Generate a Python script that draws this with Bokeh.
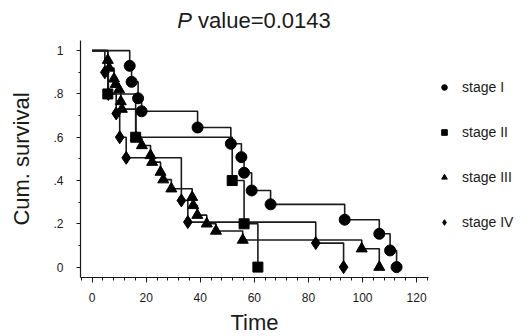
from bokeh.plotting import figure
from bokeh.layouts import column
from bokeh.models import (FixedTicker, CustomJSTickFormatter, Legend, LegendItem,
                          Range1d, Div)
from bokeh.embed import file_html
from bokeh.resources import INLINE

# ---- data ----
stage1_t = [13.9, 14.6, 17.0, 18.3, 39.0, 51.3, 55.2, 56.2, 59.0, 66.0, 93.4, 106.2, 110.2, 112.6]
stage1_s = [0.93, 0.856, 0.78, 0.72, 0.645, 0.57, 0.508, 0.436, 0.354, 0.29, 0.219, 0.154, 0.077, 0.0]

stage2_t = [5.8, 16.1, 51.8, 56.2, 61.3]
stage2_s = [0.8, 0.6, 0.4, 0.2, 0.0]

stage3_t = [5.8, 6.3, 8.1, 8.7, 10.0, 10.6, 11.0, 16.2, 18.4, 21.6, 22.2, 25.3, 26.3, 29.3,
            37.0, 37.4, 38.9, 42.4, 45.8, 55.7, 99.7, 106.2]
stage3_s = [0.956, 0.92, 0.87, 0.845, 0.82, 0.765, 0.73, 0.60, 0.562, 0.516, 0.485, 0.439,
            0.404, 0.362, 0.323, 0.285, 0.24, 0.2, 0.167, 0.125, 0.085, 0.0]

stage4_t = [4.7, 6.0, 8.9, 10.2, 12.6, 33.0, 35.4, 82.7, 93.0]
stage4_s = [0.9, 0.8, 0.71, 0.6, 0.505, 0.308, 0.208, 0.111, 0.0]

series_names = ["stage I", "stage II", "stage III", "stage IV"]
x_ticks = [0, 20, 40, 60, 80, 100, 120]
y_ticks = [0, 0.2, 0.4, 0.6, 0.8, 1]
title_italic = "P"
title_rest = "value=0.0143"

FONT = "Liberation Sans"
INK = "#1a1a1a"

p = figure(frame_width=348, frame_height=237,
           x_range=Range1d(-4.3, 124.4), y_range=Range1d(-0.048, 1.047),
           output_backend="svg", toolbar_location=None,
           min_border_left=80, min_border_top=8, min_border_right=10, min_border_bottom=51)
p.outline_line_color = None
p.xgrid.visible = False
p.ygrid.visible = False
p.background_fill_color = "white"
p.border_fill_color = "white"

# axes
p.xaxis.ticker = FixedTicker(ticks=x_ticks, minor_ticks=list(range(-4, 125, 4)))
p.yaxis.ticker = FixedTicker(ticks=y_ticks, minor_ticks=[0.1, 0.3, 0.5, 0.7, 0.9])
p.yaxis.formatter = CustomJSTickFormatter(code="""
    if (tick == 0) return '0';
    if (tick == 1) return '1';
    return tick.toFixed(1).replace(/^0/, '');
""")
for ax in (p.xaxis[0], p.yaxis[0]):
    ax.axis_line_color = INK
    ax.axis_line_width = 1.2
    ax.major_tick_line_color = INK
    ax.minor_tick_line_color = INK
    ax.major_tick_in = 0
    ax.minor_tick_in = 0
    ax.major_label_text_font = FONT
    ax.major_label_text_font_size = "12px"
    ax.major_label_text_color = INK
    ax.axis_label_text_font = FONT
    ax.axis_label_text_font_style = "normal"
    ax.axis_label_text_font_size = "22px"
    ax.axis_label_text_color = INK
p.xaxis.major_tick_out = 5
p.xaxis.minor_tick_out = 3
p.xaxis.major_label_standoff = 10
p.xaxis.axis_label = "Time"
p.xaxis.axis_label_standoff = 5
p.yaxis.major_tick_out = 4
p.yaxis.minor_tick_out = 2
p.yaxis.major_label_standoff = 13
p.yaxis.axis_label = "Cum. survival"
p.yaxis.axis_label_standoff = 16

series = [
    (stage1_t, stage1_s, "circle", 11),
    (stage2_t, stage2_s, "square", 10),
    (stage3_t, stage3_s, "triangle", 11),
    (stage4_t, stage4_s, "diamond", 13),
]
items = []
for (t, s, marker, size) in series:
    p.step([0] + t, [1.0] + s, mode="after", line_color=INK, line_width=1.6)
for (t, s, marker, size), name in zip(series, series_names):
    r = p.scatter(t, s, marker=marker, size=size, fill_color="black", line_color="black")
    items.append(LegendItem(label=name, renderers=[r]))

legend = Legend(items=items, location=(3, 37), orientation="vertical",
                glyph_height=24, glyph_width=14, label_height=24, spacing=21,
                padding=6, margin=0, label_standoff=11,
                label_text_font=FONT, label_text_font_size="14px", label_text_color=INK,
                border_line_alpha=0, background_fill_alpha=0)
p.add_layout(legend, "right")

title = Div(text=(f'<div style="font-family:\'{FONT}\'; font-size:22px; color:{INK}; '
                  'text-align:center; width:348px; margin-left:80px; padding-top:8px; '
                  f'line-height:26px;"><i>{title_italic}</i> {title_rest}</div>'),
            width=523, height=32, margin=0)

layout = column(title, p, spacing=0)
open("out.html", "w").write(file_html(layout, INLINE))
